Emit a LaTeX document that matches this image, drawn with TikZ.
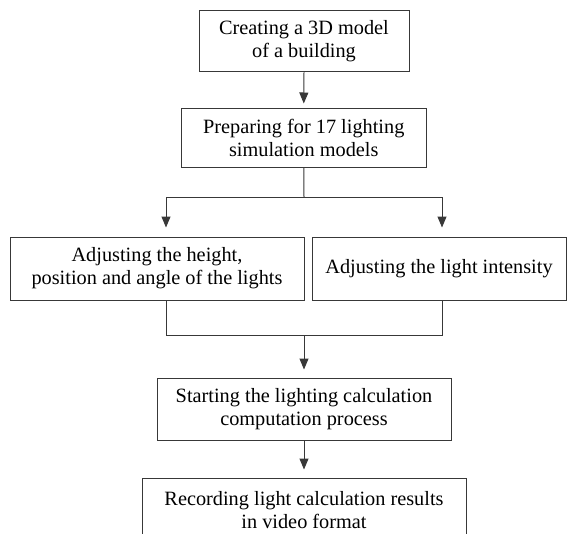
\documentclass[tikz,border=0pt]{standalone}
\usepackage{fontspec}
\setmainfont{Liberation Serif}
\usetikzlibrary{arrows.meta,calc}
\tikzset{
  box/.style={draw=black!78, line width=1pt, inner sep=0pt, align=center,
    font=\fontsize{20.3}{23}\selectfont},
  conn/.style={draw=black!78, line width=1pt},
  arr/.style={conn, -{Triangle[length=11pt,width=9pt]}}
}
\begin{document}
\begin{tikzpicture}[x=1pt,y=-1pt]
\useasboundingbox (0,0) rectangle (567,533);
\clip (0,0) rectangle (567,533);
\node[box, minimum width=210pt, minimum height=61pt] (b1) at (304,41.3) {Creating a 3D model\\of a building};
\node[box, minimum width=244.5pt, minimum height=59pt] (b2) at (303.75,137.5) {Preparing for 17 lighting\\simulation models};
\node[box, minimum width=294pt, minimum height=63pt] (b3) at (157,268.5) {Adjusting the height,\\position and angle of the lights};
\node[box, minimum width=254pt, minimum height=63pt] (b4) at (439,268.5) {Adjusting the light intensity};
\node[box, minimum width=294pt, minimum height=62pt] (b5) at (304,409) {Starting the lighting calculation\\computation process};
\node[box, minimum width=324pt, minimum height=64pt] (b6) at (304,510) {Recording light calculation results\\in video format};
% split
\coordinate (s) at (304,197);
\coordinate (sl) at (166,197);
\coordinate (sr) at (442,197);
% merge
\coordinate (m) at (304,335);
\coordinate (ml) at (166,335);
\coordinate (mr) at (442,335);
\draw[arr, shorten >=4pt] (b1.south) -- (b2.north);
\draw[conn] (b2.south) -- (s);
\draw[conn] (sl) -- (sr);
\draw[arr, shorten >=9pt] (sl) -- (sl |- b3.north);
\draw[arr, shorten >=9pt] (sr) -- (sr |- b4.north);
\draw[conn] (b3.south -| ml) -- (ml) -- (mr) -- (b4.south -| mr);
\draw[arr, shorten >=8pt] (m) -- (b5.north);
\draw[arr, shorten >=8pt] (b5.south) -- (b6.north);
\end{tikzpicture}
\end{document}
